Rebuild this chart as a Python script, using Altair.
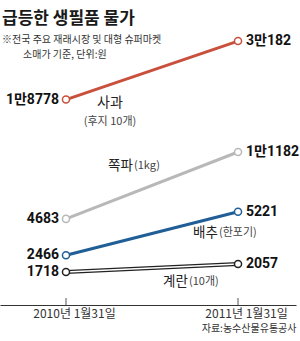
import altair as alt
import pandas as pd

# ---- data ----
dates = ["2010-01-31", "2011-01-31"]
sides = ["start", "end"]
series = ["사과", "쪽파", "배추", "계란"]
units = ["(후지 10개)", "(1kg)", "(한포기)", "(10개)"]
price_2010 = [18778, 4683, 2466, 1718]
price_2011 = [30182, 11182, 5221, 2057]
colors = ["#c8503c", "#b8b8b8", "#1f5e96", "#222222"]

FONT = "Noto Sans CJK KR"
NUM_FONT = "Roboto, Noto Sans CJK KR"


def won(v):
    return f"{v // 10000}만{v % 10000}" if v >= 10000 else str(v)


rows = []
for s, a, b in zip(series, price_2010, price_2011):
    for d, side, v in zip(dates, sides, (a, b)):
        rows.append({"series": s, "date": d, "side": side, "value": v, "label": won(v)})
df = pd.DataFrame(rows)
tick_df = pd.DataFrame({"date": dates})

x_scale = alt.Scale(
    type="utc",
    domain=[alt.DateTime(year=2009, month=9, date=13, utc=True),
            alt.DateTime(year=2011, month=6, date=3, utc=True)],
)
x_axis = alt.Axis(
    values=[alt.DateTime(year=2010, month=1, date=31, utc=True),
            alt.DateTime(year=2011, month=1, date=31, utc=True)],
    format="%Y년 %-m월%d일",
    ticks=False, tickSize=0, grid=False,
    domainColor="#333333", domainWidth=1,
    labelFont=FONT, labelFontSize=12, labelColor="#333333",
    labelPadding=3, labelOffset=8,
    title="자료:농수산물유통공사", titleFont=FONT, titleFontSize=10,
    titleFontWeight="normal", titleColor="#333333", titleAnchor="end",
    titlePadding=4,
)
x = alt.X("date:T", scale=x_scale, axis=x_axis)
# compressed (power) scale: the reference spreads the small prices apart
y = alt.Y("value:Q",
          scale=alt.Scale(type="pow", exponent=0.4, domain=[687, 40182], zero=False, nice=False),
          axis=None)

base = alt.Chart(df).encode(x=x, y=y)

egg_outer = base.transform_filter(alt.datum.series == series[3]).mark_line(strokeWidth=4, color="#222222")
egg_inner = base.transform_filter(alt.datum.series == series[3]).mark_line(strokeWidth=1.6, color="white")
lines_main = base.transform_filter(
    alt.FieldOneOfPredicate(field="series", oneOf=series[:3])
).mark_line(strokeWidth=3).encode(
    color=alt.Color("series:N", scale=alt.Scale(domain=series[:3], range=colors[:3]), legend=None)
)

ticks = alt.Chart(tick_df).mark_rule(color="#555555", strokeWidth=1).encode(
    x=x, y=alt.value(298), y2=alt.value(305)
)

points = base.mark_point(shape="circle", filled=True, fill="white", size=50, strokeWidth=1.5, opacity=1).encode(
    stroke=alt.Stroke("series:N", scale=alt.Scale(domain=series, range=colors), legend=None)
)

lbl_left = base.transform_filter(alt.datum.side == "start").mark_text(
    align="right", baseline="middle", dx=-7, font=NUM_FONT, fontSize=14, fontWeight="bold", color="#111111"
).encode(text="label:N")
lbl_right = base.transform_filter(alt.datum.side == "end").mark_text(
    align="left", baseline="middle", dx=8, font=NUM_FONT, fontSize=14, fontWeight="bold", color="#111111"
).encode(text="label:N")


def name_label(s, side, text, dx, dy, size, align, color="#222222"):
    return base.transform_filter(
        (alt.datum.series == s) & (alt.datum.side == side)
    ).mark_text(
        text=text, dx=dx, dy=dy, fontSize=size, align=align, baseline="middle",
        font=FONT, color=color
    )


names = [
    name_label(series[0], "start", series[0], 44, 3, 14, "center"),
    name_label(series[0], "start", units[0], 44, 22, 11, "center", "#444444"),
    name_label(series[1], "start", series[1], 42, -53, 13.5, "left"),
    name_label(series[1], "start", units[1], 68, -53, 11, "left", "#444444"),
    name_label(series[2], "end", series[2], -45, 21, 13.5, "left"),
    name_label(series[2], "end", units[2], -19, 21, 11, "left", "#444444"),
    name_label(series[3], "end", series[3], -75, 18, 13.5, "left"),
    name_label(series[3], "end", units[3], -49, 18, 11, "left", "#444444"),
]

chart = alt.layer(
    egg_outer, egg_inner, lines_main, ticks, points, lbl_left, lbl_right, *names
).properties(
    width=296,
    height=305,
    padding={"left": 0, "top": 0, "right": 4, "bottom": 36},
    autosize=alt.AutoSizeParams(type="none"),
    title=alt.TitleParams(
        text="급등한 생필품 물가",
        subtitle=["※전국 주요 재래시장 및 대형 슈퍼마켓", "\u2800\u2800\u2800소매가 기준, 단위:원"],
        anchor="start", orient="top", frame="group", offset=-61, dx=2,
        font=FONT, fontSize=17, fontWeight="bold", color="#1a1a1a",
        subtitleFont=FONT, subtitleFontSize=10, subtitleColor="#333333",
        subtitlePadding=7, subtitleLineHeight=15,
    ),
).configure_view(stroke=None)

chart.save("out.html", embed_options={"renderer": "svg", "actions": False})
